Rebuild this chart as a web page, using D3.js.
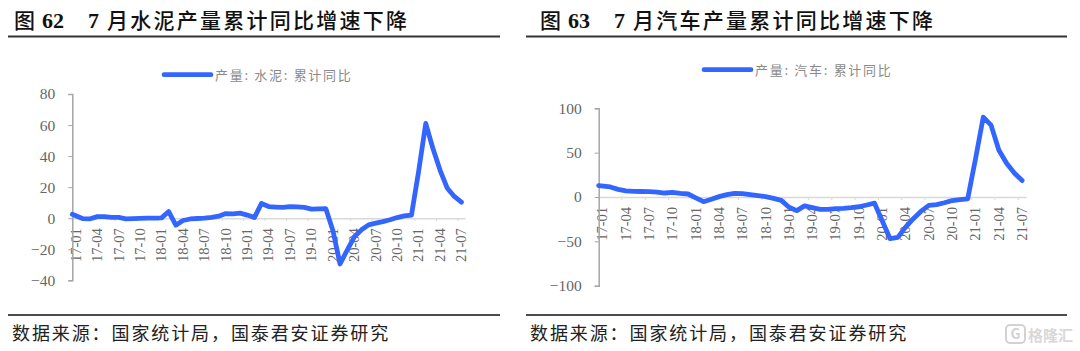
<!DOCTYPE html>
<html>
<head>
<meta charset="utf-8">
<script src="https://cdn.jsdelivr.net/npm/d3@7"></script>
<style>
    html, body { margin: 0; padding: 0; background: #fff; }
    svg { display: block; }
</style>
</head>
<body>
<div id="main"></div>
<script>
const months = [
    "17-01","17-02","17-03","17-04","17-05","17-06","17-07","17-08","17-09","17-10","17-11","17-12",
    "18-01","18-02","18-03","18-04","18-05","18-06","18-07","18-08","18-09","18-10","18-11","18-12",
    "19-01","19-02","19-03","19-04","19-05","19-06","19-07","19-08","19-09","19-10","19-11","19-12",
    "20-01","20-02","20-03","20-04","20-05","20-06","20-07","20-08","20-09","20-10","20-11","20-12",
    "21-01","21-02","21-03","21-04","21-05","21-06","21-07"
];
const monthTicks = months.filter((m, i) => i % 3 === 0);

const cementValues = [
    2.5, -0.3, -0.4, 1, 1, 0.5, 0.5, -0.4, -0.3, -0.1, 0, 0,
    0.2, 4.3, -4.5, -1.5, -0.5, -0.2, 0.1, 0.6, 1.3, 3, 2.8, 3.3,
    2, 0.4, 9.5, 7.5, 7.2, 7, 7.5, 7.3, 7, 5.8, 6, 6.2,
    -8, -29.5, -20.5, -12, -7.5, -4.3, -3.2, -2.2, -1, 0.4, 1.5, 2,
    30, 61, 45, 31, 19.5, 14, 10.3
];
const carValues = [
    12.8, 11.3, 8.6, 6.8, 6.4, 6.2, 6, 5.6, 4.5, 5.3, 4.1, 3.4,
    -1, -5.3, -2.6, 0.4, 2.6, 4.1, 3.8, 2.6, 1.5, 0.4, -1.5, -3.8,
    -11.5, -15.4, -10, -12, -14, -14, -13, -12.8, -12, -11, -9, -7,
    -27, -47, -45.5, -34, -24.5, -16, -9.5, -8.5, -6.5, -4, -3, -2,
    43, 90, 81, 53, 38, 27, 18.5
];

const cementTicks = [-40, -20, 0, 20, 40, 60, 80];
const carTicks = [-100, -50, 0, 50, 100];

const serif = "'Liberation Serif', 'Times New Roman', serif";
const cjk = "'Noto Sans CJK SC', sans-serif";
const lineColor = "#3366ff";
// full width colon and comma
const sourceText = "数据来源\uFF1A国家统计局\uFF0C国泰君安证券研究";

const svg = d3.select("#main").append("svg")
    .attr("width", 1080)
    .attr("height", 351);

function drawHeader(panel) {
    const g = svg.append("g");
    const titleY = 28;

    g.append("text").attr("x", panel.titleX).attr("y", titleY)
        .style("font", "500 21px " + cjk).attr("fill", "#111").text("图");
    g.append("text").attr("x", panel.titleX + 28).attr("y", titleY)
        .style("font", "bold 22px " + serif).attr("fill", "#111").text(panel.figNo);
    g.append("text").attr("x", panel.titleX + 74).attr("y", titleY)
        .style("font", "bold 22px " + serif).attr("fill", "#111").text("7");
    g.append("text").attr("x", panel.titleX + 93).attr("y", titleY)
        .style("font", "500 21px " + cjk).style("letter-spacing", "2.25px").attr("fill", "#111")
        .text(panel.title);

    g.append("line").attr("x1", panel.left).attr("x2", panel.right)
        .attr("y1", 36.5).attr("y2", 36.5)
        .attr("stroke", "#333").attr("stroke-width", 2);
    g.append("line").attr("x1", panel.left).attr("x2", panel.right)
        .attr("y1", 315).attr("y2", 315)
        .attr("stroke", "#111").attr("stroke-width", 1.5);

    g.append("text").attr("x", panel.left + 4).attr("y", 340)
        .style("font", "18px " + cjk).style("letter-spacing", "1.9px").attr("fill", "#222")
        .text(sourceText);
}

function drawChart(panel, values, ticks) {
    drawHeader(panel);

    const x = d3.scaleBand().domain(months).range(panel.xRange);
    const y = d3.scaleLinear().domain(panel.yDomain).range(panel.yRange);
    const chart = svg.append("g");

    // x axis sits on zero, ticks fall on the band edges like excel
    const xAxis = chart.append("g")
        .attr("transform", "translate(0," + y(0) + ")")
        .call(d3.axisBottom(x).tickValues(monthTicks).tickSize(3).tickSizeOuter(0));
    xAxis.select(".domain").attr("stroke", "#d9d9d9").attr("stroke-width", 1.5);
    xAxis.selectAll(".tick line")
        .attr("x1", -x.step() / 2).attr("x2", -x.step() / 2)
        .attr("stroke", "#d9d9d9");
    xAxis.selectAll(".tick text")
        .attr("transform", "rotate(-90)")
        .attr("text-anchor", "end")
        .attr("x", -10).attr("y", 0).attr("dy", "0.33em")
        .style("font", "14.5px " + serif)
        .attr("fill", "#666");

    const yAxis = chart.append("g")
        .attr("transform", "translate(" + panel.xRange[0] + ",0)")
        .call(d3.axisLeft(y).tickValues(ticks).tickSize(4).tickSizeOuter(4).tickPadding(3));
    yAxis.select(".domain").attr("stroke", "#a6a6a6").attr("stroke-width", 1.5);
    yAxis.selectAll(".tick line").attr("stroke", "#a6a6a6");
    yAxis.selectAll(".tick text")
        .attr("x", -panel.labelGap)
        .style("font", "15.5px " + serif)
        .attr("fill", "#666");

    // first point touches the y axis in the original
    const line = d3.line()
        .x((d, i) => i === 0 ? x(months[0]) : x(months[i]) + x.bandwidth() / 2)
        .y(d => y(d));
    chart.append("path")
        .datum(values)
        .attr("d", line)
        .attr("fill", "none")
        .attr("stroke", lineColor)
        .attr("stroke-width", 4.8)
        .attr("stroke-linejoin", "round")
        .attr("stroke-linecap", "round");

    // legend
    chart.append("line")
        .attr("x1", panel.legendX).attr("x2", panel.legendX + 47)
        .attr("y1", panel.legendY).attr("y2", panel.legendY)
        .attr("stroke", lineColor).attr("stroke-width", 4.7)
        .attr("stroke-linecap", "round");
    chart.append("text")
        .attr("x", panel.legendX + 51).attr("y", panel.legendY + 5)
        .style("font", "13px " + cjk).style("letter-spacing", "1.7px")
        .attr("fill", "#8a8a8a")
        .text(panel.legend);
}

drawChart({
    left: 8, right: 500, titleX: 14,
    figNo: "62", title: "月水泥产量累计同比增速下降",
    legend: "产量: 水泥: 累计同比",
    legendX: 164, legendY: 74.7,
    xRange: [72.3, 465], yDomain: [-40, 80], yRange: [280.3, 94],
    labelGap: 17
}, cementValues, cementTicks);

drawChart({
    left: 526, right: 1067, titleX: 540,
    figNo: "63", title: "月汽车产量累计同比增速下降",
    legend: "产量: 汽车: 累计同比",
    legendX: 704, legendY: 69.7,
    xRange: [598.7, 1026], yDomain: [-100, 100], yRange: [285.7, 108.3],
    labelGap: 17
}, carValues, carTicks);

// watermark bottom right
const mark = svg.append("g");
mark.append("rect")
    .attr("x", 1006).attr("y", 325).attr("width", 19).attr("height", 18).attr("rx", 4)
    .attr("fill", "none").attr("stroke", "#d2d2d2").attr("stroke-width", 2);
mark.append("text").attr("x", 1015.5).attr("y", 339).attr("text-anchor", "middle")
    .style("font", "bold 14px " + cjk).attr("fill", "#d2d2d2").text("G");
mark.append("text").attr("x", 1028).attr("y", 341)
    .style("font", "bold 15px " + cjk).attr("fill", "#d8d8d8").text("格隆汇");
</script>
</body>
</html>
